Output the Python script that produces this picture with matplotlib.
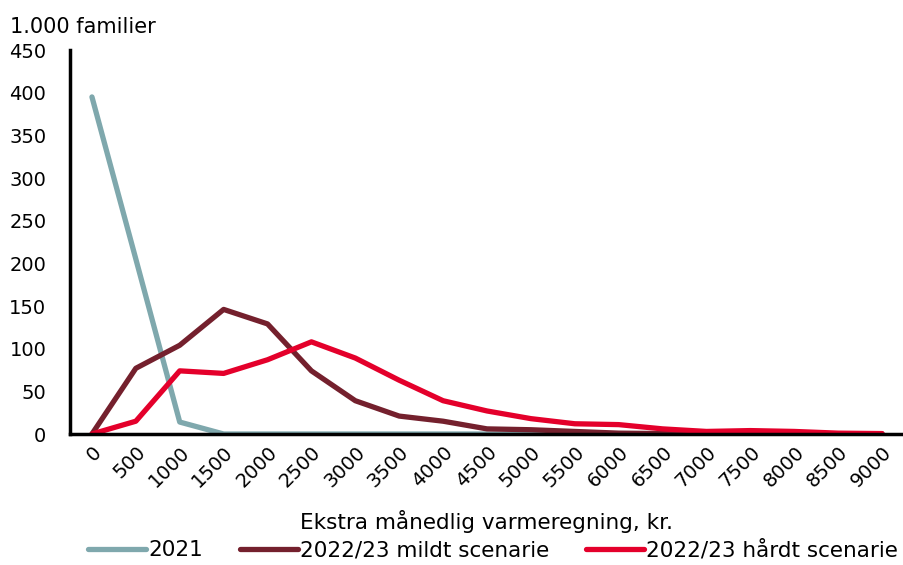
import matplotlib.pyplot as plt
import numpy as np

# data (1.000 familier) per ekstra maanedlig varmeregning
kr = np.arange(0, 9001, 500)
v2021 = [395, 205, 14, 0, 0, 0, 0, 0, 0, 0, 0, 0, 0, 0, 0, 0, 0, 0, 0]
mildt = [0, 77, 104, 146, 129, 74, 39, 21, 15, 6, 5, 3, 1, 0.5, 0.5, 0.5, 0.3, 0.2, 0.1]
haardt = [0, 15, 74, 71, 87, 108, 89, 63, 39, 27, 18, 12, 11, 6, 3, 4, 3, 1, 0.5]

plt.rcParams['font.family'] = ['DejaVu Sans']
fs = 14

fig = plt.figure(figsize=(9.04, 5.65), dpi=100)
ax = fig.add_axes([70/904, 1 - 434/565, 834/904, 384/565])

ax.plot(kr, v2021, color="#7FA8AD", lw=3.8, label="2021", solid_capstyle="round")
ax.plot(kr, mildt, color="#74202D", lw=3.8, label="2022/23 mildt scenarie", solid_capstyle="round")
ax.plot(kr, haardt, color="#E4002B", lw=3.8, label="2022/23 hårdt scenarie", solid_capstyle="round")

ax.set_xlim(-250, 9250)
ax.set_ylim(0, 450)
ax.set_yticks(range(0, 451, 50))
ax.set_xticks(kr)
ax.set_xticklabels([str(k) for k in kr], rotation=45, ha="right", rotation_mode="anchor")
ax.tick_params(axis="both", length=0, labelsize=fs)
ax.tick_params(axis="y", pad=17)
ax.tick_params(axis="x", pad=6)

for s in ["top", "right"]:
    ax.spines[s].set_visible(False)
ax.spines["left"].set_linewidth(2.5)
ax.spines["bottom"].set_linewidth(2.5)

ax.set_xlabel("Ekstra månedlig varmeregning, kr.", fontsize=15.5)
ax.xaxis.set_label_coords(0.5, -0.227)
ax.xaxis.label.set_va("center")
fig.text(10/904, 1 - 27/565, "1.000 familier", fontsize=15, va="center")

ax.legend(loc="center", bbox_to_anchor=(0.507, -0.302), ncol=3, frameon=False,
          fontsize=15.5, handlelength=2.7, columnspacing=1.7, handletextpad=0.1,
          borderpad=0)

fig.savefig("out.png", dpi=100)
